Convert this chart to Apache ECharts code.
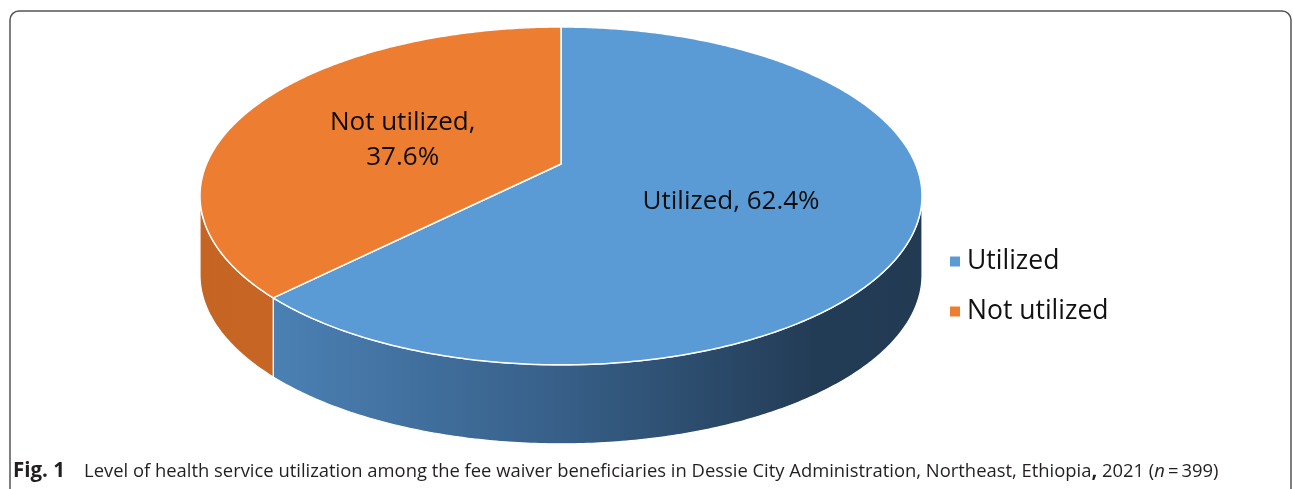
<!DOCTYPE html>
<html>
<head>
<meta charset="utf-8">
<script src="https://cdn.jsdelivr.net/npm/echarts@6/dist/echarts.min.js"></script>
<style>
  html, body { margin: 0; padding: 0; background: #fff; }
  #chart { width: 1293px; height: 489px; }
</style>
</head>
<body>
<div id="chart"></div>
<script>
// data
const categories = ['Utilized', 'Not utilized'];
const percents = [62.4, 37.6];
const topColors = ['#5B9BD5', '#ED7D31'];
// side wall shading, left -> right
const sideStops = [
  [[0, '#4F86BB'], [0.12, '#4A7FB2'], [0.5, '#375F88'], [0.85, '#233C56'], [1, '#223A52']],
  [[0, '#C66424'], [1, '#D2722E']]
];
const captionBold = 'Fig. 1';
const captionText = 'Level of health service utilization among the fee waiver beneficiaries in Dessie City Administration, Northeast, Ethiopia';
const captionYear = '2021';
const captionN = '399';

const FONT = '"Open Sans", sans-serif';

// pie geometry (tilted disc seen in perspective)
const PIE = { cx: 561, cy: 164, rx: 354.5, ry: 162.9, tilt: 0.189, depth: 79 };

function project(theta, r) {
  const x = r * Math.cos(theta), y = r * Math.sin(theta);
  const w = 1 + PIE.tilt * y;
  return [PIE.cx + PIE.rx * x / w, PIE.cy - PIE.ry * y / w];
}

function arcPoints(a, b, r, dy) {
  const pts = [];
  const n = Math.max(2, Math.ceil(Math.abs(b - a) / 0.01));
  for (let i = 0; i <= n; i++) {
    const p = project(a + (b - a) * i / n, r);
    pts.push([p[0], p[1] + dy]);
  }
  return pts;
}

const total = percents.reduce((s, v) => s + v, 0);
const START = Math.PI / 2;

function sliceAngles(idx) {
  let before = 0;
  for (let i = 0; i < idx; i++) before += percents[i];
  const a0 = START - 2 * Math.PI * before / total;
  const a1 = START - 2 * Math.PI * (before + percents[idx]) / total;
  return [a1, a0];
}

function labelFor(i) {
  const sep = categories[i].indexOf(' ') >= 0 ? ',\n' : ', ';
  return categories[i] + sep + percents[i].toFixed(1) + '%';
}

function renderSlice(idx) {
  return function (params, api) {
    const [lo, hi] = sliceAngles(idx);
    const children = [];
    const edge = Math.asin(PIE.tilt);
    const vis0 = Math.PI + edge, vis1 = 2 * Math.PI - edge;
    const x0 = PIE.cx - PIE.rx * 1.02, x1 = PIE.cx + PIE.rx * 1.02;

    // visible outer wall
    for (let k = -1; k <= 1; k++) {
      const a = Math.max(lo, vis0 + 2 * Math.PI * k);
      const b = Math.min(hi, vis1 + 2 * Math.PI * k);
      if (a < b) {
        const pts = arcPoints(a, b, 1, 0).concat(arcPoints(b, a, 1, PIE.depth));
        children.push({
          type: 'polygon',
          z2: 1,
          shape: { points: pts },
          style: {
            fill: {
              type: 'linear', x: x0, y: 0, x2: x1, y2: 0, global: true,
              colorStops: sideStops[idx].map(s => ({ offset: s[0], color: s[1] }))
            },
            stroke: '#fff',
            lineWidth: 1.2
          }
        });
      }
    }

    // top face
    const top = [[PIE.cx, PIE.cy]].concat(arcPoints(hi, lo, 1, 0));
    children.push({
      type: 'polygon',
      z2: 10,
      shape: { points: top },
      style: { fill: topColors[idx], stroke: '#fff', lineWidth: 1.5, lineJoin: 'round' }
    });

    // data label
    const mid = (lo + hi) / 2;
    const lp = project(mid, 0.5);
    children.push({
      type: 'text',
      z2: 20,
      x: lp[0],
      y: lp[1] + 6,
      style: {
        text: labelFor(idx),
        fill: '#0d0d0d',
        fontFamily: FONT,
        fontSize: 26,
        lineHeight: 35,
        align: 'center',
        verticalAlign: 'middle'
      }
    });
    return { type: 'group', children: children };
  };
}

const chart = echarts.init(document.getElementById('chart'), null, { renderer: 'canvas' });

const option = {
  animation: false,
  backgroundColor: '#fff',
  title: {
    left: 8,
    top: 456,
    text: '{b|' + captionBold + '}{n|    ' + captionText + '}{b|,}{n| ' + captionYear + ' (}{i|n}{n|\u2009=\u2009' + captionN + ')}',
    textStyle: {
      fontWeight: 'normal',
      rich: {
        b: { fontFamily: FONT, fontSize: 20.5, fontWeight: 'bold', color: '#231f20' },
        n: { fontFamily: FONT, fontSize: 18.4, fontWeight: 'normal', color: '#231f20' },
        i: { fontFamily: FONT, fontSize: 18.4, fontWeight: 'normal', fontStyle: 'italic', color: '#231f20' }
      }
    }
  },
  legend: {
    orient: 'vertical',
    left: 945,
    top: 243,
    itemWidth: 10,
    itemHeight: 10,
    itemGap: 23,
    icon: 'rect',
    selectedMode: false,
    data: categories,
    textStyle: { fontFamily: FONT, fontSize: 26.5, lineHeight: 24, color: '#111', padding: [0, 0, 0, 2] }
  },
  graphic: [{
    type: 'rect',
    z: -1,
    silent: true,
    shape: { x: 10, y: 11, width: 1281, height: 520, r: 9 },
    style: { fill: 'none', stroke: '#555', lineWidth: 1.5 }
  }],
  series: categories.map((name, i) => ({
    type: 'custom',
    name: name,
    coordinateSystem: 'none',
    itemStyle: { color: topColors[i] },
    renderItem: renderSlice(i),
    data: [percents[i]]
  }))
};

chart.setOption(option);
</script>
</body>
</html>
